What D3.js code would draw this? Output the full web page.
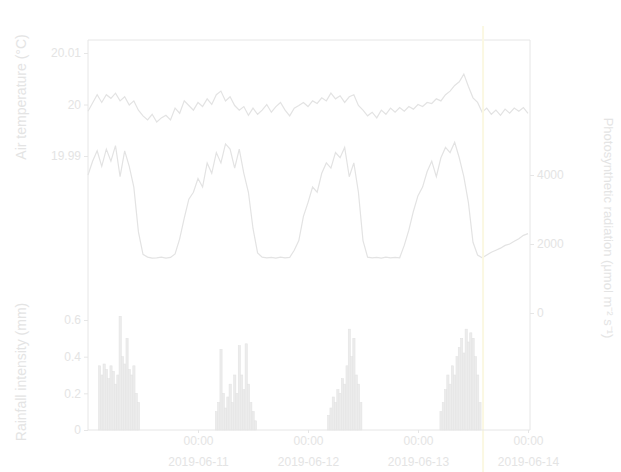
<!DOCTYPE html>
<html><head><meta charset="utf-8">
<script src="https://cdn.jsdelivr.net/npm/d3@7"></script>
<style>
html,body{margin:0;padding:0;background:#fff;}
svg{display:block;font-family:"Liberation Sans",Arial,sans-serif;}
</style></head>
<body><svg id="c" width="621" height="472"></svg>
<script>
// ---- data ----
const startDate = "2019-06-10T00:00:00";
const tickLabels = ["00:00","00:00","00:00","00:00"];
const tickDates = ["2019-06-11","2019-06-12","2019-06-13","2019-06-14"];
const tickHours = [24,48,72,96];
const eventHour = 86.2;
// hourly air temperature (°C), hours 0..96
const temperature = [
 19.9987,20.0003,20.0019,20.0004,20.0019,20.0012,20.0022,20.0007,20.0015,19.9999,
 20.0007,19.9989,19.9978,19.9970,19.9981,19.9966,19.9974,19.9979,19.9970,19.9993,
 19.9983,20.0007,19.9998,19.9989,20.0004,19.9996,20.0011,20.0000,20.0019,20.0026,
 20.0007,20.0015,19.9998,19.9989,19.9996,19.9979,19.9993,19.9981,19.9989,20.0000,
 19.9985,19.9996,20.0004,19.9989,19.9978,19.9993,19.9998,20.0004,19.9996,20.0007,
 20.0002,20.0013,20.0007,20.0022,20.0011,20.0017,20.0004,20.0015,20.0019,19.9998,
 19.9989,19.9978,19.9985,19.9974,19.9989,19.9981,19.9993,19.9985,19.9994,19.9987,
 19.9996,19.9991,20.0000,19.9996,20.0004,20.0002,20.0011,20.0007,20.0019,20.0026,
 20.0037,20.0044,20.0059,20.0035,20.0013,20.0004,19.9985,19.9993,19.9981,19.9989,
 19.9979,19.9991,19.9983,19.9993,19.9987,19.9994,19.9983];
// hourly radiation, hours 0..96
const radiation = [
 4000,4400,4700,4250,4750,4400,4850,3950,4700,4250,
 3650,2350,1700,1620,1590,1600,1620,1590,1610,1710,
 2150,2750,3300,3500,3900,3650,4350,4050,4650,4350,
 4900,4750,4200,4750,4050,3500,2450,1740,1620,1600,
 1610,1590,1620,1600,1610,1820,2100,2800,3200,3650,
 3500,4050,4350,4200,4650,4500,4800,3950,4350,3500,
 2100,1620,1600,1610,1590,1620,1600,1610,1600,1960,
 2400,2950,3400,3650,4100,4400,3950,4500,4800,4650,
 4950,4500,3950,3200,2050,1680,1600,1680,1760,1820,
 1880,1960,2000,2080,2150,2250,2300];
// rainfall intensity, half-hourly bars in rainy spells
const rainHours = [
 2.5,3,3.5,4,4.5,5,5.5,6,6.5,7,7.5,8,8.5,9,9.5,10,10.5,11,
 28,28.5,29,29.5,30,30.5,31,31.5,32,32.5,33,33.5,34,34.5,35,35.5,36,36.5,
 52.5,53,53.5,54,54.5,55,55.5,56,56.5,57,57.5,58,58.5,59,59.5,
 77,77.5,78,78.5,79,79.5,80,80.5,81,81.5,82,82.5,83,83.5,84,84.5,85,85.5];
const rainValues = [
 0.35,0.30,0.36,0.33,0.28,0.35,0.32,0.25,0.30,0.62,0.40,0.36,0.50,0.33,0.30,0.35,0.20,0.15,
 0.10,0.15,0.44,0.20,0.12,0.18,0.25,0.15,0.30,0.20,0.46,0.30,0.22,0.47,0.25,0.15,0.10,0.05,
 0.08,0.12,0.18,0.15,0.22,0.20,0.28,0.25,0.35,0.55,0.40,0.50,0.30,0.25,0.15,
 0.10,0.15,0.22,0.30,0.25,0.35,0.30,0.40,0.45,0.50,0.42,0.55,0.48,0.53,0.50,0.40,0.30,0.15];
const tempTicks = [19.99,20,20.01];
const radTicks = [0,2000,4000];
const rainTicks = [0,0.2,0.4,0.6];

// ---- drawing ----
const svg = d3.select("#c");
const lineCol = "#e3e3e3", textCol = "#e4e4e4", axisCol = "#e6e6e6";
const t0 = new Date(startDate);
const hourToDate = h => new Date(t0.getTime() + h*3600000);
const x = d3.scaleTime().domain([hourToDate(0), hourToDate(96)]).range([88, 528]);
const yT = d3.scaleLinear().domain([19.99, 20.01]).range([156, 53]);
const yR = d3.scaleLinear().domain([0, 4000]).range([313, 175]);
const yP = d3.scaleLinear().domain([0, 0.6]).range([430, 320]);

// frame
svg.append("line").attr("x1",88).attr("x2",530).attr("y1",40).attr("y2",40).attr("stroke",axisCol);
svg.append("line").attr("x1",530).attr("x2",530).attr("y1",40).attr("y2",430).attr("stroke",axisCol);

// rain bars
svg.append("g").selectAll("rect").data(rainHours).join("rect")
  .attr("x", (h)=>x(hourToDate(h))-1)
  .attr("width", 2.2)
  .attr("y", (h,i)=>yP(rainValues[i]))
  .attr("height", (h,i)=>yP(0)-yP(rainValues[i]))
  .attr("fill","#ececec").attr("stroke","#e4e4e4").attr("stroke-width",0.6);

// radiation line
svg.append("path").datum(radiation)
  .attr("d", d3.line().x((d,i)=>x(hourToDate(i))).y(d=>yR(d)))
  .attr("fill","none").attr("stroke",lineCol).attr("stroke-width",1.2);
// temperature line
svg.append("path").datum(temperature)
  .attr("d", d3.line().x((d,i)=>x(hourToDate(i))).y(d=>yT(d)))
  .attr("fill","none").attr("stroke",lineCol).attr("stroke-width",1.2);

// event marker
svg.append("line").attr("x1",x(hourToDate(eventHour))).attr("x2",x(hourToDate(eventHour)))
  .attr("y1",26).attr("y2",472).attr("stroke","#fbf8e2").attr("stroke-width",2);

function styleAxis(g){
  g.selectAll("path,line").attr("stroke",axisCol);
  g.selectAll("text").attr("fill",textCol).attr("font-size",12).attr("font-family","Liberation Sans, Arial, sans-serif");
}
// left axes
const gT = svg.append("g").attr("transform","translate(88,0)")
  .call(d3.axisLeft(yT).tickValues(tempTicks).tickFormat(d3.format("~g")).tickSizeOuter(0).tickSize(4));
styleAxis(gT); gT.select(".domain").attr("d","M0,40V170");
const gP = svg.append("g").attr("transform","translate(88,0)")
  .call(d3.axisLeft(yP).tickValues(rainTicks).tickFormat(d3.format("~g")).tickSizeOuter(0).tickSize(4));
styleAxis(gP); gP.select(".domain").attr("d","M0,170V430");
// right axis
const gR = svg.append("g").attr("transform","translate(530,0)")
  .call(d3.axisRight(yR).tickValues(radTicks).tickFormat(d3.format("d")).tickSizeOuter(0).tickSize(4));
styleAxis(gR); gR.select(".domain").remove();
// bottom axis
const gX = svg.append("g").attr("transform","translate(0,430)")
  .call(d3.axisBottom(x).tickValues(tickHours.map(hourToDate)).tickFormat((d,i)=>tickLabels[i]).tickSizeOuter(0).tickSize(3));
styleAxis(gX); gX.select(".domain").attr("d","M88,0H530");
gX.selectAll(".tick text").attr("y",15).attr("dy",null)
  .each(function(d,i){
    d3.select(this).append("tspan").attr("x",0).attr("y",36).text(tickDates[i]);
  });

// axis titles
svg.append("text").attr("transform","translate(26,97) rotate(-90)").attr("text-anchor","middle")
  .attr("fill",textCol).attr("font-size",14).text("Air temperature (°C)");
svg.append("text").attr("transform","translate(26,372) rotate(-90)").attr("text-anchor","middle")
  .attr("fill",textCol).attr("font-size",14).text("Rainfall intensity (mm)");
svg.append("text").attr("transform","translate(604,228) rotate(90)").attr("text-anchor","middle")
  .attr("fill",textCol).attr("font-size",13).text("Photosynthetic radiation (μmol m⁻² s⁻¹)");
</script></body></html>
